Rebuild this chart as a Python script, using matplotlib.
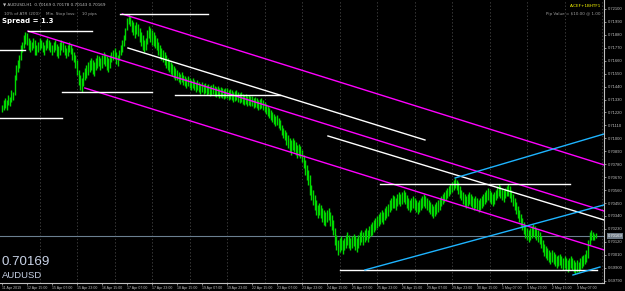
import matplotlib
matplotlib.use("Agg")
import matplotlib.pyplot as plt
import numpy as np

# ---- hourly bar data (AUDUSD H1), prices in 1e-5 units ----
high_pts = [
71284,71326,71343,71326,71368,71351,71411,71394,71538,71623,71666,71708,71793,71819,71878,71904,
71896,71853,71836,71819,71853,71836,71793,71819,71853,71836,71819,71793,71836,71853,71836,71819,
71793,71819,71836,71802,71785,71819,71836,71819,71793,71768,71793,71819,71802,71768,71734,71708,
71666,71581,71538,71513,71564,71598,71623,71649,71666,71683,71666,71649,71683,71708,71700,71683,
71708,71734,71717,71700,71683,71708,71734,71751,71768,71734,71708,71751,71793,71836,71878,71938,
72023,72057,72040,72006,71989,71963,71989,71972,71938,71904,71878,71836,71853,71921,71955,71938,
71921,71904,71878,71853,71819,71793,71768,71751,71734,71708,71683,71666,71649,71632,71615,71598,
71581,71564,71547,71564,71538,71530,71513,71530,71513,71496,71513,71496,71479,71496,71479,71462,
71479,71462,71471,71453,71462,71445,71453,71462,71445,71436,71445,71428,71436,71428,71419,71428,
71428,71411,71419,71411,71394,71402,71411,71394,71386,71394,71377,71368,71377,71360,71368,71360,
71360,71343,71351,71343,71326,71334,71343,71326,71309,71292,71275,71258,71241,71224,71207,71190,
71198,71173,71156,71114,71088,71071,71054,71028,71003,70986,71003,70986,70969,70944,70952,70935,
70901,70858,70816,70774,70731,70688,70603,70561,70518,70476,70433,70451,70433,70408,70391,70374,
70391,70408,70374,70348,70306,70238,70178,70136,70153,70170,70136,70153,70178,70204,70178,70153,
70170,70187,70170,70153,70178,70204,70221,70204,70221,70238,70221,70255,70272,70289,70306,70323,
70340,70357,70374,70391,70374,70408,70425,70442,70476,70493,70518,70510,70493,70527,70544,70527,
70544,70561,70544,70518,70493,70476,70493,70510,70493,70476,70459,70476,70493,70510,70527,70510,
70493,70476,70459,70442,70425,70442,70459,70476,70493,70510,70527,70544,70561,70578,70595,70612,
70629,70646,70663,70646,70629,70595,70561,70544,70527,70510,70527,70544,70527,70510,70493,70510,
70493,70476,70493,70510,70527,70544,70561,70578,70561,70544,70527,70544,70561,70595,70612,70595,
70578,70561,70578,70595,70612,70595,70561,70527,70493,70459,70425,70391,70357,70323,70289,70255,
70238,70221,70238,70255,70272,70255,70238,70221,70204,70170,70136,70102,70085,70068,70051,70034,
70051,70034,70017,70000,70008,70017,70000,69983,70000,69983,69966,69983,70000,69983,69966,69949,
69966,69949,69983,70000,70008,70017,70051,70136,70204,70221,70204,70187,70196]
low_pts = [
71224,71241,71258,71241,71284,71275,71309,71326,71368,71496,71564,71598,71666,71734,71768,71802,
71793,71751,71734,71751,71768,71708,71708,71734,71751,71768,71734,71708,71751,71768,71751,71734,
71708,71734,71751,71700,71683,71708,71751,71734,71708,71683,71700,71734,71717,71666,71649,71598,
71538,71453,71411,71394,71445,71496,71513,71538,71564,71581,71547,71530,71581,71598,71615,71581,
71598,71632,71615,71581,71564,71598,71649,71666,71683,71632,71615,71666,71708,71734,71785,71836,
71921,71972,71955,71904,71878,71853,71887,71870,71819,71785,71751,71734,71751,71802,71853,71819,
71793,71785,71768,71751,71708,71683,71666,71649,71623,71598,71581,71564,71547,71530,71513,71496,
71496,71479,71462,71479,71453,71445,71428,71445,71428,71411,71428,71411,71394,71411,71394,71377,
71394,71377,71386,71368,71377,71360,71368,71377,71360,71351,71360,71343,71351,71343,71334,71343,
71343,71326,71334,71326,71309,71318,71326,71309,71300,71309,71292,71284,71292,71275,71284,71275,
71275,71258,71266,71258,71241,71250,71258,71241,71224,71207,71190,71173,71156,71139,71122,71105,
71114,71088,71071,71028,71003,70986,70944,70918,70884,70858,70901,70884,70858,70833,70850,70833,
70799,70748,70688,70646,70603,70518,70476,70433,70391,70348,70323,70348,70323,70289,70264,70255,
70289,70306,70255,70221,70178,70093,70051,70008,70034,70051,70017,70051,70068,70093,70068,70051,
70068,70085,70051,70034,70068,70093,70119,70093,70119,70136,70119,70153,70170,70178,70204,70221,
70238,70255,70272,70289,70272,70306,70323,70340,70374,70391,70408,70408,70391,70425,70442,70425,
70442,70459,70442,70408,70391,70374,70391,70408,70391,70374,70357,70374,70391,70408,70425,70408,
70391,70374,70357,70340,70323,70340,70357,70374,70391,70425,70442,70459,70476,70493,70510,70527,
70544,70561,70578,70561,70527,70493,70476,70442,70425,70408,70425,70442,70425,70408,70391,70408,
70391,70374,70391,70408,70425,70442,70459,70476,70459,70442,70425,70442,70476,70493,70510,70493,
70476,70459,70493,70510,70510,70493,70459,70425,70391,70357,70323,70289,70255,70221,70187,70153,
70136,70119,70136,70153,70170,70153,70136,70119,70102,70068,70034,70000,69983,69966,69949,69932,
69949,69932,69915,69898,69915,69923,69898,69881,69898,69881,69864,69881,69898,69881,69864,69847,
69864,69864,69881,69898,69915,69932,69949,69983,70093,70136,70136,70136,70153]

symbol = "AUDUSD"
last_price = 0.70169

x_labels = ["11 Apr 2019", "12 Apr 15:00", "15 Apr 07:00", "15 Apr 23:00", "16 Apr 15:00",
            "17 Apr 07:00", "17 Apr 23:00", "18 Apr 15:00", "19 Apr 07:00", "19 Apr 23:00",
            "22 Apr 15:00", "23 Apr 07:00", "23 Apr 23:00", "24 Apr 15:00", "25 Apr 07:00",
            "25 Apr 23:00", "26 Apr 15:00", "29 Apr 07:00", "29 Apr 23:00", "30 Apr 15:00",
            "1 May 07:00", "1 May 23:00", "2 May 15:00", "3 May 07:00"]
label_step = 16  # bars between time labels
grid_step = 24   # bars between vertical grid lines

y_ticks = [0.69790, 0.69900, 0.70010, 0.70120, 0.70230, 0.70340, 0.70450, 0.70560,
           0.70670, 0.70780, 0.70890, 0.71000, 0.71110, 0.71220, 0.71330, 0.71440,
           0.71550, 0.71660, 0.71770, 0.71880, 0.71990, 0.72100]

# drawn objects: (bar1, price1, bar2, price2)
magenta_lines = [(77, 0.72057, 385.3, 0.70774),
                 (16.6, 0.71912, 385.3, 0.70382),
                 (53, 0.71428, 385.3, 0.70051)]
white_trend = [(80.6, 0.71768, 270.7, 0.70986),
               (208.6, 0.71020, 385.3, 0.70306)]
white_levels = [(-1.3, 38.4, 0.71173), (16.6, 57.6, 0.71912), (38.4, 96, 0.71394),
                (75.5, 131.8, 0.72057), (110.7, 178, 0.71368), (242, 363.5, 0.70612),
                (216, 381, 0.69881), (-1.3, 14.7, 0.71751)]
cyan_lines = [(290, 0.70663, 385.3, 0.71037),
              (232.3, 0.69881, 385.3, 0.70434),
              (365.4, 0.69838, 382.7, 0.69906)]

W, H = 625, 291
fig = plt.figure(figsize=(W / 100, H / 100), dpi=100, facecolor="black")
ax = fig.add_axes([0, 1 - 283 / H, 604 / W, 283 / H], facecolor="black")

hi = np.array(high_pts) / 1e5
lo = np.array(low_pts) / 1e5
idx = np.arange(len(hi))

ax.set_xlim(-1.28, 385.28)
ax.set_ylim(0.69770, 0.72176)

for g in range(grid_step, 386, grid_step):
    ax.axvline(g, color="#4a4a4a", lw=0.6, ls=(0, (1.5, 2.5)), zorder=0)

ax.vlines(idx, lo, hi, colors="#00d800", linewidth=1.0, zorder=2)

ax.axhline(last_price, color="#6b7f90", lw=0.8, zorder=1)

for (a, p1, b, p2) in magenta_lines:
    ax.plot([a, b], [p1, p2], color="#ff00ff", lw=1.0, zorder=3)
for (a, p1, b, p2) in white_trend:
    ax.plot([a, b], [p1, p2], color="white", lw=1.0, zorder=3)
for (a, b, p) in white_levels:
    ax.plot([a, b], [p, p], color="white", lw=1.0, zorder=3)
for (a, p1, b, p2) in cyan_lines:
    ax.plot([a, b], [p1, p2], color="#1eb4ff", lw=1.0, zorder=3)

# axes
for s in ["top", "left"]:
    ax.spines[s].set_visible(False)
for s in ["right", "bottom"]:
    ax.spines[s].set_color("#c0c0c0")
    ax.spines[s].set_linewidth(0.8)

ax.yaxis.tick_right()
ax.set_yticks(y_ticks)
ax.set_yticklabels([f"{v:.5f}" for v in y_ticks], family="Liberation Sans")
ax.tick_params(axis="y", colors="#c0c0c0", labelsize=3.0, length=1.5, width=0.5, pad=1.0)
ax.set_xticks([i * label_step for i in range(len(x_labels))])
ax.set_xticklabels(x_labels, ha="left", family="Liberation Sans")
ax.tick_params(axis="x", colors="#c0c0c0", labelsize=2.5, length=1.5, width=0.5, pad=1.0)

# current price box on axis
ax.text(1.006, last_price, f"{last_price:.5f}", transform=ax.get_yaxis_transform(),
        fontsize=3.0, color="white", va="center", ha="left", family="Liberation Sans",
        bbox=dict(boxstyle="square,pad=0.2", fc="#6e7a86", ec="none"))

# texts
fig.text(3 / W, 1 - 4 / H, "▼ AUDUSD,H1  0.70169 0.70178 0.70143 0.70169", fontsize=3,
         color="#c0c0c0", va="center", ha="left")
fig.text(4 / W, 1 - 14 / H, "10% of ATR (200)     Min. Stop loss:     10 pips", fontsize=3,
         color="#a0a0a0", va="center", ha="left")
fig.text(2 / W, 1 - 21 / H, "Spread = 1.3", fontsize=5, color="white", fontweight="bold",
         va="center", ha="left")
fig.text(601 / W, 1 - 6 / H, "A:CEF+1BHTF1", fontsize=3, color="#ffff00", va="center", ha="right")
fig.text(601 / W, 1 - 14 / H, "Pip Value = $10.00 @ 1.00", fontsize=3, color="#a0a0a0",
         va="center", ha="right")
fig.text(2 / W, 1 - 262 / H, f"{last_price:.5f}", fontsize=9.6, color="#c8d2e6",
         family="Liberation Sans", va="center", ha="left")
fig.text(2 / W, 1 - 275.5 / H, symbol, fontsize=6.8, color="#c8d2e6",
         family="Liberation Sans", va="center", ha="left")

fig.savefig("out.png", dpi=100, facecolor="black")
